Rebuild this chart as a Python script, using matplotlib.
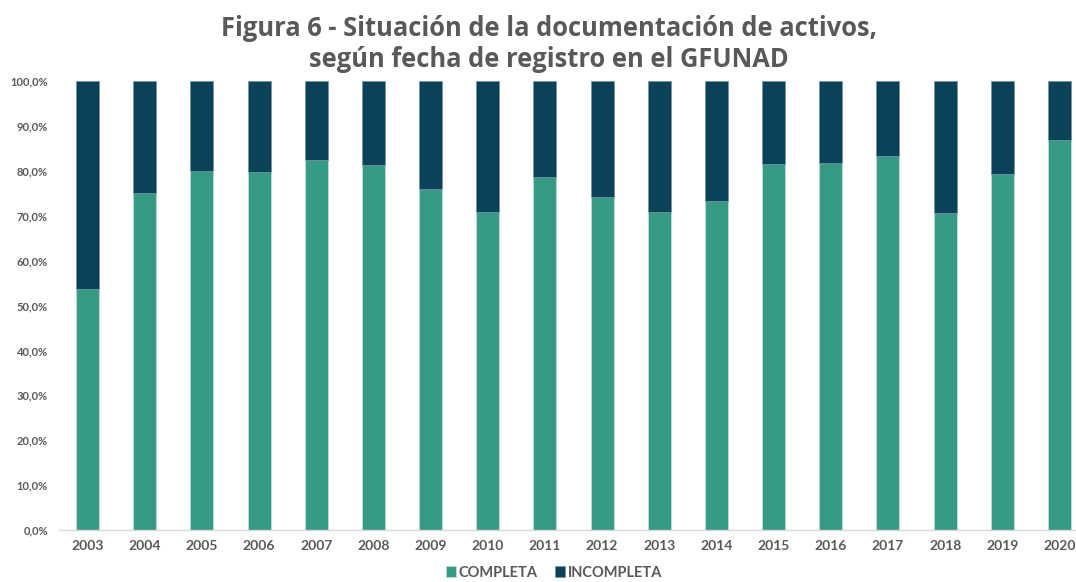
import matplotlib.pyplot as plt
from matplotlib.ticker import FuncFormatter

plt.rcParams['font.family'] = ['Lato', 'DejaVu Sans']

years = [str(y) for y in range(2003, 2021)]
completa = [53.7, 75.1, 80.0, 79.7, 82.4, 81.3, 75.9, 70.8, 78.6,
            74.2, 70.8, 73.3, 81.5, 81.7, 83.3, 70.6, 79.3, 86.9]
incompleta = [100 - c for c in completa]

verde = '#369A85'
azul = '#0B4259'
gris = '#595959'

fig = plt.figure(figsize=(10.76, 5.82), dpi=100)
ax = fig.add_axes([59 / 1076, 52 / 582, (1076 - 59) / 1076, 449 / 582])

x = range(len(years))
ax.bar(x, completa, width=0.40, color=verde, edgecolor='#cfe6e0', linewidth=0.4, label='COMPLETA')
ax.bar(x, incompleta, width=0.40, bottom=completa, color=azul, edgecolor='#6a8fa0', linewidth=0.4, label='INCOMPLETA')

ax.set_xlim(-0.5, 17.29)
ax.set_ylim(0, 100)
ax.set_yticks(range(0, 101, 10))
ax.yaxis.set_major_formatter(FuncFormatter(lambda v, p: f'{v:.1f}%'.replace('.', ',')))
ax.set_xticks(list(x))
ax.set_xticklabels(years)
ax.tick_params(axis='y', length=0, pad=8, labelsize=8, labelcolor=gris)
ax.tick_params(axis='x', length=0, pad=7, labelsize=10, labelcolor=gris)
for lab in ax.get_xticklabels() + ax.get_yticklabels():
    lab.set_fontweight('bold')

for s in ['top', 'right', 'left']:
    ax.spines[s].set_visible(False)
ax.spines['bottom'].set_color('#D9D9D9')
ax.spines['bottom'].set_linewidth(1)

titulo = dict(ha='center', va='center', fontsize=18.4, fontweight='bold', color=gris,
              family=['Open Sans', 'DejaVu Sans'])
fig.text(0.510, 0.951, 'Figura 6 - Situación de la documentación de activos,', **titulo)
fig.text(0.510, 0.898, 'según fecha de registro en el GFUNAD', **titulo)

leg = fig.legend(loc='center', bbox_to_anchor=(0.515, 0.016), ncol=2, frameon=False,
                 handlelength=0.7, handleheight=0.7, handletextpad=0.2, columnspacing=1.2,
                 prop={'size': 10.5, 'weight': 'bold'})
for t in leg.get_texts():
    t.set_color(gris)

fig.savefig('out.png', dpi=100)
